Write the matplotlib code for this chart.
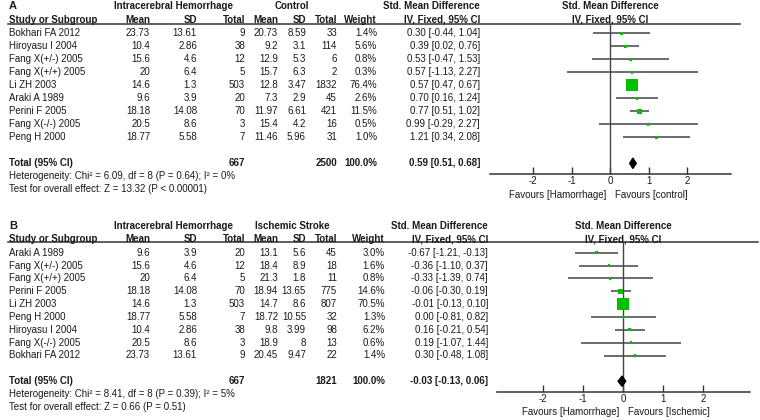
import matplotlib.pyplot as plt
from matplotlib.patches import Polygon
import numpy as np

plt.rcParams['font.family'] = ['Liberation Sans', 'DejaVu Sans']
plt.rcParams['axes.unicode_minus'] = False

# panel A: intracerebral hemorrhage vs control
a_study = ['Bokhari FA 2012', 'Hiroyasu I 2004', 'Fang X(+/-) 2005', 'Fang X(+/+) 2005',
           'Li ZH 2003', 'Araki A 1989', 'Perini F 2005', 'Fang X(-/-) 2005', 'Peng H 2000']
a_mean1 = [23.73, 10.4, 15.6, 20, 14.6, 9.6, 18.18, 20.5, 18.77]
a_sd1 = [13.61, 2.86, 4.6, 6.4, 1.3, 3.9, 14.08, 8.6, 5.58]
a_n1 = [9, 38, 12, 5, 503, 20, 70, 3, 7]
a_mean2 = [20.73, 9.2, 12.9, 15.7, 12.8, 7.3, 11.97, 15.4, 11.46]
a_sd2 = [8.59, 3.1, 5.3, 6.3, 3.47, 2.9, 6.61, 4.2, 5.96]
a_n2 = [33, 114, 6, 2, 1832, 45, 421, 16, 31]
a_weight = [1.4, 5.6, 0.8, 0.3, 76.4, 2.6, 11.5, 0.5, 1.0]
a_smd = [0.30, 0.39, 0.53, 0.57, 0.57, 0.70, 0.77, 0.99, 1.21]
a_lo = [-0.44, 0.02, -0.47, -1.13, 0.47, 0.16, 0.51, -0.29, 0.34]
a_hi = [1.04, 0.76, 1.53, 2.27, 0.67, 1.24, 1.02, 2.27, 2.08]
a_total = (667, 2500, 0.59, 0.51, 0.68)
a_het = 'Heterogeneity: Chi\u00b2 = 6.09, df = 8 (P = 0.64); I\u00b2 = 0%'
a_test = 'Test for overall effect: Z = 13.32 (P < 0.00001)'

# panel B: intracerebral hemorrhage vs ischemic stroke
b_study = ['Araki A 1989', 'Fang X(+/-) 2005', 'Fang X(+/+) 2005', 'Perini F 2005',
           'Li ZH 2003', 'Peng H 2000', 'Hiroyasu I 2004', 'Fang X(-/-) 2005', 'Bokhari FA 2012']
b_mean1 = [9.6, 15.6, 20, 18.18, 14.6, 18.77, 10.4, 20.5, 23.73]
b_sd1 = [3.9, 4.6, 6.4, 14.08, 1.3, 5.58, 2.86, 8.6, 13.61]
b_n1 = [20, 12, 5, 70, 503, 7, 38, 3, 9]
b_mean2 = [13.1, 18.4, 21.3, 18.94, 14.7, 18.72, 9.8, 18.9, 20.45]
b_sd2 = [5.6, 8.9, 1.8, 13.65, 8.6, 10.55, 3.99, 8, 9.47]
b_n2 = [45, 18, 11, 775, 807, 32, 98, 13, 22]
b_weight = [3.0, 1.6, 0.8, 14.6, 70.5, 1.3, 6.2, 0.6, 1.4]
b_smd = [-0.67, -0.36, -0.33, -0.06, -0.01, 0.00, 0.16, 0.19, 0.30]
b_lo = [-1.21, -1.10, -1.39, -0.30, -0.13, -0.81, -0.21, -1.07, -0.48]
b_hi = [-0.13, 0.37, 0.74, 0.19, 0.10, 0.82, 0.54, 1.44, 1.08]
b_total = (667, 1821, -0.03, -0.13, 0.06)
b_het = 'Heterogeneity: Chi\u00b2 = 8.41, df = 8 (P = 0.39); I\u00b2 = 5%'
b_test = 'Test for overall effect: Z = 0.66 (P = 0.51)'

W, H = 760, 420
fig = plt.figure(figsize=(W / 100, H / 100), dpi=100)
tx = fig.add_axes([0, 0, 1, 1])
tx.set_xlim(0, W)
tx.set_ylim(H, 0)
tx.axis('off')

FS = 7
TC = '#1a1a1a'


def fmt(v):
    return '{:g}'.format(v)


def panel(label, grp2, study, m1, s1, n1, m2, s2, n2, wt, smd, lo, hi, total, het, test, fav2,
          top, sp, hline, axline, cols, fx, line_end, fav_off):
    # cols: mean1, sd1, n1, mean2, sd2, n2, weight, smd text (right edges)
    c = cols
    tx.text(9, top - 27, label, fontsize=FS + 1, fontweight='bold', color=TC, va='center')
    tx.text(173, top - 27, 'Intracerebral Hemorrhage', fontsize=FS, fontweight='bold', color=TC, ha='center', va='center')
    tx.text(292, top - 27, grp2, fontsize=FS, fontweight='bold', color=TC, ha='center', va='center')
    tx.text(c[7], top - 27, 'Std. Mean Difference', fontsize=FS, fontweight='bold', color=TC, ha='right', va='center')
    hy = top - 13.5
    tx.text(9, hy, 'Study or Subgroup', fontsize=FS, fontweight='bold', color=TC, va='center')
    for x, s in zip(c, ['Mean', 'SD', 'Total', 'Mean', 'SD', 'Total', 'Weight', 'IV, Fixed, 95% CI']):
        tx.text(x, hy, s, fontsize=FS, fontweight='bold', color=TC, ha='right', va='center')
    tx.plot([8, line_end], [hline, hline], color='#333333', lw=1.1)

    for i in range(len(study)):
        y = top + sp * i
        row = [fmt(m1[i]), fmt(s1[i]), str(n1[i]), fmt(m2[i]), fmt(s2[i]), str(n2[i]),
               '{:.1f}%'.format(wt[i]), '{:.2f} [{:.2f}, {:.2f}]'.format(smd[i], lo[i], hi[i])]
        tx.text(9, y, study[i], fontsize=FS, color=TC, va='center')
        for x, s in zip(c, row):
            tx.text(x, y, s, fontsize=FS, color=TC, ha='right', va='center')

    ty = top + sp * (len(study) + 1)
    tx.text(9, ty, 'Total (95% CI)', fontsize=FS, fontweight='bold', color=TC, va='center')
    tx.text(c[2], ty, str(total[0]), fontsize=FS, fontweight='bold', color=TC, ha='right', va='center')
    tx.text(c[5], ty, str(total[1]), fontsize=FS, fontweight='bold', color=TC, ha='right', va='center')
    tx.text(c[6], ty, '100.0%', fontsize=FS, fontweight='bold', color=TC, ha='right', va='center')
    tx.text(c[7], ty, '{:.2f} [{:.2f}, {:.2f}]'.format(*total[2:]), fontsize=FS, fontweight='bold',
            color=TC, ha='right', va='center')
    tx.text(9, ty + sp, het, fontsize=FS, color=TC, va='center')
    tx.text(9, ty + 2 * sp, test, fontsize=FS, color=TC, va='center')

    # forest plot
    x0, x1, xmin, xmax = fx
    ax = fig.add_axes([x0 / W, 1 - axline / H, (x1 - x0) / W, (axline - hline) / H])
    ax.set_xlim(xmin, xmax)
    ax.set_ylim((axline - top) / sp, (hline - top) / sp)
    ax.patch.set_alpha(0)
    for s in ['top', 'left', 'right']:
        ax.spines[s].set_visible(False)
    ax.spines['bottom'].set_color('#333333')
    ax.spines['bottom'].set_linewidth(1.1)
    ax.set_yticks([])
    ax.set_xticks([-2, -1, 0, 1, 2])
    ax.tick_params(axis='x', direction='in', length=5, width=1, color='#333333',
                   labelsize=FS, labelcolor=TC, pad=1.5)
    ax.axvline(0, color='#444444', lw=1)
    rows = np.arange(len(study))
    ax.hlines(rows, lo, hi, color='#444444', lw=1.1, zorder=2)
    ax.scatter(smd, rows, s=np.maximum(np.array(wt) * 0.95, 3), marker='s',
               color='#00c000', edgecolor='none', zorder=3)
    t = len(study) + 1
    ax.add_patch(Polygon([(total[3], t), (total[2], t - 0.4), (total[4], t), (total[2], t + 0.4)],
                         closed=True, color='black', zorder=3))
    zx = x0 + (0 - xmin) * (x1 - x0) / (xmax - xmin)
    tx.text(zx, top - 27, 'Std. Mean Difference', fontsize=FS, fontweight='bold', color=TC,
            ha='center', va='center')
    tx.text(zx, hy, 'IV, Fixed, 95% CI', fontsize=FS, fontweight='bold', color=TC,
            ha='center', va='center')
    ax.annotate('Favours [Hamorrhage]', xy=(0, 0), xycoords=('data', 'axes fraction'),
                xytext=(-3, -fav_off), textcoords='offset points', ha='right', va='center',
                fontsize=FS, color=TC)
    ax.annotate(fav2, xy=(0, 0), xycoords=('data', 'axes fraction'),
                xytext=(3.5, -fav_off), textcoords='offset points', ha='left', va='center',
                fontsize=FS, color=TC)


panel('A', 'Control', a_study, a_mean1, a_sd1, a_n1, a_mean2, a_sd2, a_n2, a_weight,
      a_smd, a_lo, a_hi, a_total, a_het, a_test, 'Favours [control]',
      top=33.3, sp=13.0, hline=24, axline=173.5,
      cols=[150, 197, 245, 278, 306, 337, 377, 480], fx=(490, 731, -3.12, 3.14),
      line_end=740, fav_off=15.5)

panel('B', 'Ischemic Stroke', b_study, b_mean1, b_sd1, b_n1, b_mean2, b_sd2, b_n2, b_weight,
      b_smd, b_lo, b_hi, b_total, b_het, b_test, 'Favours [Ischemic]',
      top=252.7, sp=12.85, hline=242, axline=391.7,
      cols=[150, 197, 245, 278, 306, 337, 385, 488], fx=(497, 750, -3.16, 3.17),
      line_end=758, fav_off=14.6)

fig.savefig('out.png', dpi=100, facecolor='white')
